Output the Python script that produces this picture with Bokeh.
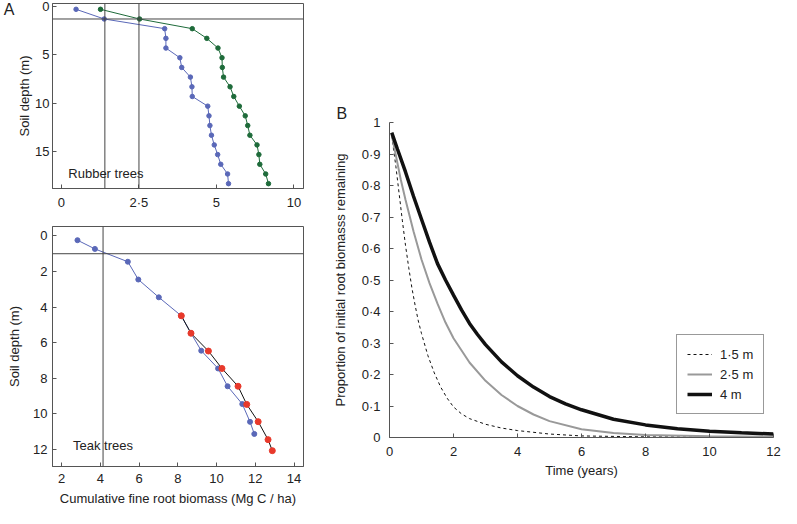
from bokeh.plotting import figure
from bokeh.models import Range1d, FixedTicker, Span, Label, LinearAxis
from bokeh.layouts import row, column
from bokeh.embed import file_html
from bokeh.resources import INLINE

# ---------------- data ----------------
# Panel A (top): rubber trees
rubber_depth = [0.3, 1.3, 2.3, 3.3, 4.3, 5.3, 6.3, 7.3, 8.3, 9.3, 10.3, 11.3, 12.3, 13.3, 14.3, 15.3, 16.3, 17.3, 18.3]
rubber_green = [1.26, 2.52, 4.22, 4.69, 5.05, 5.18, 5.19, 5.23, 5.44, 5.56, 5.74, 5.93, 6.01, 6.08, 6.31, 6.37, 6.40, 6.59, 6.68]
rubber_blue = [0.47, 1.38, 3.33, 3.37, 3.37, 3.82, 3.88, 4.16, 4.21, 4.22, 4.72, 4.76, 4.79, 4.84, 4.93, 5.04, 5.14, 5.36, 5.39]
rubber_x_ticks = [0, 2.5, 5, 7.5]
rubber_x_labels = ["0", "2·5", "5", "10"]
rubber_y_ticks = [0, 5, 10, 15]
rubber_vlines = [1.4, 2.5]
rubber_hline = 1.3
panel_a_tag_depth = 0.2

# Panel A (bottom): teak trees
teak_blue_x = [2.82, 3.72, 5.42, 5.96, 7.02, 8.18, 8.68, 9.21, 10.08, 10.57, 11.33, 11.73, 11.95]
teak_blue_depth = [0.24, 0.73, 1.45, 2.45, 3.45, 4.49, 5.47, 6.45, 7.45, 8.45, 9.45, 10.45, 11.13]
teak_red_x = [8.18, 8.68, 9.58, 10.28, 11.11, 11.56, 12.15, 12.66, 12.88]
teak_red_depth = [4.49, 5.47, 6.47, 7.45, 8.45, 9.47, 10.44, 11.45, 12.07]
teak_x_ticks = [2, 4, 6, 8, 10, 12, 14]
teak_y_ticks = [0, 2, 4, 6, 8, 10, 12]
teak_vline = 4.14
teak_hline = 1.0

# Panel B: decay curves
t_15 = [0.07, 0.12, 0.2, 0.3, 0.4, 0.5, 0.6, 0.7, 0.8, 0.9, 1.0, 1.2, 1.4, 1.6, 1.8, 2.0, 2.25, 2.5, 3.0, 3.5, 4.0, 5.0, 6.0, 8.0, 10.0, 12.0]
y_15 = [0.958, 0.92, 0.86, 0.775, 0.69, 0.61, 0.54, 0.475, 0.42, 0.37, 0.33, 0.26, 0.205, 0.16, 0.125, 0.097, 0.075, 0.06, 0.042, 0.03, 0.022, 0.011, 0.005, 0.002, 0.001, 0.0005]
t_25 = [0.07, 0.2, 0.35, 0.5, 0.75, 1.0, 1.25, 1.5, 1.75, 2.0, 2.5, 3.0, 3.5, 4.0, 4.5, 5.0, 6.0, 7.0, 8.0, 10.0, 12.0]
y_25 = [0.96, 0.895, 0.82, 0.755, 0.655, 0.565, 0.49, 0.425, 0.365, 0.315, 0.238, 0.18, 0.135, 0.10, 0.073, 0.052, 0.026, 0.014, 0.008, 0.004, 0.002]
t_4 = [0.07, 0.25, 0.5, 0.75, 1.0, 1.25, 1.5, 1.75, 2.0, 2.25, 2.5, 2.75, 3.0, 3.5, 4.0, 4.5, 5.0, 5.5, 6.0, 7.0, 8.0, 9.0, 10.0, 11.0, 12.0]
y_4 = [0.968, 0.915, 0.843, 0.766, 0.693, 0.62, 0.552, 0.5, 0.452, 0.405, 0.362, 0.327, 0.295, 0.24, 0.196, 0.16, 0.13, 0.107, 0.088, 0.058, 0.04, 0.028, 0.02, 0.015, 0.011]
b_x_ticks = [0, 2, 4, 6, 8, 10, 12]
b_y_ticks = [0, 0.1, 0.2, 0.3, 0.4, 0.5, 0.6, 0.7, 0.8, 0.9, 1.0]
b_y_labels = ["0", "0·1", "0·2", "0·3", "0·4", "0·5", "0·6", "0·7", "0·8", "0·9", "1"]

FONT = "Liberation Sans"
TXT = "#222222"
AX = "#555555"
BLUE = "#5a68b8"
GREEN = "#1e6b3a"
RED = "#e8392b"
FS = "13px"


def style(p, box=True):
    p.xgrid.visible = False
    p.ygrid.visible = False
    p.background_fill_color = "white"
    p.border_fill_color = "white"
    p.outline_line_color = AX if box else None
    for ax in p.axis:
        ax.axis_line_color = AX
        ax.major_tick_line_color = AX
        ax.major_tick_in = 4
        ax.major_tick_out = 0
        ax.minor_tick_line_color = None
        ax.minor_tick_in = 0
        ax.minor_tick_out = 0
        ax.major_label_text_font = FONT
        ax.major_label_text_font_size = FS
        ax.major_label_text_color = TXT
        ax.axis_label_text_font = FONT
        ax.axis_label_text_font_size = FS
        ax.axis_label_text_color = TXT
        ax.axis_label_text_font_style = "normal"


# ---------- top left: rubber ----------
p1 = figure(width=308, height=212, x_range=Range1d(-0.29, 7.81), y_range=Range1d(18.8, -0.3),
            output_backend="svg", toolbar_location=None,
            min_border_left=47, min_border_right=5, min_border_top=3, min_border_bottom=22)
style(p1)
p1.xaxis.ticker = FixedTicker(ticks=rubber_x_ticks)
p1.xaxis.major_label_overrides = {k: v for k, v in zip(rubber_x_ticks, rubber_x_labels)}
p1.yaxis.ticker = FixedTicker(ticks=rubber_y_ticks)
p1.yaxis.axis_label = "Soil depth (m)"
p1.yaxis.major_label_standoff = 3
p1.yaxis.axis_label_standoff = 0
p1.xaxis.major_label_standoff = 6
# panel tag "A" drawn as the only label of an extra, line-less left axis
tag_axis = LinearAxis(ticker=FixedTicker(ticks=[panel_a_tag_depth]),
                      major_label_overrides={panel_a_tag_depth: "A"})
tag_axis.axis_line_color = None
tag_axis.major_tick_line_color = None
tag_axis.minor_tick_line_color = None
tag_axis.major_tick_in = 0
tag_axis.major_tick_out = 0
tag_axis.minor_tick_in = 0
tag_axis.minor_tick_out = 0
tag_axis.axis_label_standoff = 0
tag_axis.major_label_standoff = 0
tag_axis.major_label_text_font = FONT
tag_axis.major_label_text_font_size = "16px"
tag_axis.major_label_text_color = TXT
p1.add_layout(tag_axis, "left")
for v in rubber_vlines:
    p1.add_layout(Span(location=v, dimension="height", line_color="#444444", line_width=1))
p1.add_layout(Span(location=rubber_hline, dimension="width", line_color="#444444", line_width=1))
p1.line(rubber_green, rubber_depth, line_color=GREEN, line_width=1)
p1.scatter(rubber_green, rubber_depth, size=4.5, color=GREEN)
p1.line(rubber_blue, rubber_depth, line_color=BLUE, line_width=1)
p1.scatter(rubber_blue, rubber_depth, size=4.5, color=BLUE)
p1.add_layout(Label(x=0.22, y=17.3, text="Rubber trees", text_font=FONT, text_font_size=FS,
                    text_color=TXT, text_baseline="middle", text_align="left"))

# ---------- bottom left: teak ----------
p2 = figure(width=308, height=296, x_range=Range1d(1.53, 14.49), y_range=Range1d(12.96, -0.53),
            output_backend="svg", toolbar_location=None,
            min_border_left=47, min_border_right=4, min_border_top=14, min_border_bottom=42)
style(p2)
p2.xaxis.ticker = FixedTicker(ticks=teak_x_ticks)
p2.yaxis.ticker = FixedTicker(ticks=teak_y_ticks)
p2.yaxis.axis_label = "Soil depth (m)"
p2.xaxis.axis_label = "Cumulative fine root biomass (Mg C / ha)"
p2.yaxis.major_label_standoff = 5
p2.yaxis.axis_label_standoff = 8
p2.xaxis.major_label_standoff = 7
p2.xaxis.axis_label_standoff = 5
p2.add_layout(Span(location=teak_vline, dimension="height", line_color="#444444", line_width=1))
p2.add_layout(Span(location=teak_hline, dimension="width", line_color="#444444", line_width=1))
p2.line(teak_blue_x, teak_blue_depth, line_color=BLUE, line_width=1)
p2.scatter(teak_blue_x, teak_blue_depth, size=5, color=BLUE)
p2.line(teak_red_x, teak_red_depth, line_color="#111111", line_width=1)
p2.scatter(teak_red_x, teak_red_depth, size=6, color=RED)
p2.add_layout(Label(x=2.59, y=11.78, text="Teak trees", text_font=FONT, text_font_size=FS,
                    text_color=TXT, text_baseline="middle", text_align="left"))

# ---------- right: panel B ----------
p3 = figure(width=473, height=508, x_range=Range1d(0, 12), y_range=Range1d(0, 1),
            output_backend="svg", toolbar_location=None,
            min_border_left=81, min_border_right=8, min_border_top=122, min_border_bottom=71)
style(p3, box=False)
p3.title.text = "B"
p3.title.align = "left"
p3.title.offset = -53
p3.title.standoff = 2
p3.title.text_font = FONT
p3.title.text_font_size = "16px"
p3.title.text_font_style = "normal"
p3.title.text_color = TXT
p3.xaxis.ticker = FixedTicker(ticks=b_x_ticks)
p3.yaxis.ticker = FixedTicker(ticks=b_y_ticks)
p3.yaxis.major_label_overrides = {k: v for k, v in zip(b_y_ticks, b_y_labels)}
p3.yaxis.axis_label = "Proportion of initial root biomasss remaining"
p3.xaxis.axis_label = "Time (years)"
p3.yaxis.major_label_standoff = 9
p3.yaxis.axis_label_standoff = 11
p3.xaxis.major_label_standoff = 9
p3.xaxis.axis_label_standoff = 4
p3.line(t_15, y_15, line_color="#111111", line_width=1, line_dash="3 3", legend_label="1·5 m")
p3.line(t_25, y_25, line_color="#999999", line_width=2, legend_label="2·5 m")
p3.line(t_4, y_4, line_color="#111111", line_width=3.5, legend_label="4 m")
lg = p3.legend[0]
lg.location = (287, 23)
lg.border_line_color = "#333333"
lg.border_line_width = 1
lg.background_fill_color = "white"
lg.background_fill_alpha = 1
lg.label_text_font = FONT
lg.label_text_font_size = FS
lg.label_text_color = TXT
lg.glyph_width = 25
lg.glyph_height = 18
lg.label_height = 18
lg.spacing = 2
lg.padding = 10
lg.margin = 0
lg.label_standoff = 8

layout = row(column(p1, p2), p3)
open("out.html", "w").write(file_html(layout, INLINE))
